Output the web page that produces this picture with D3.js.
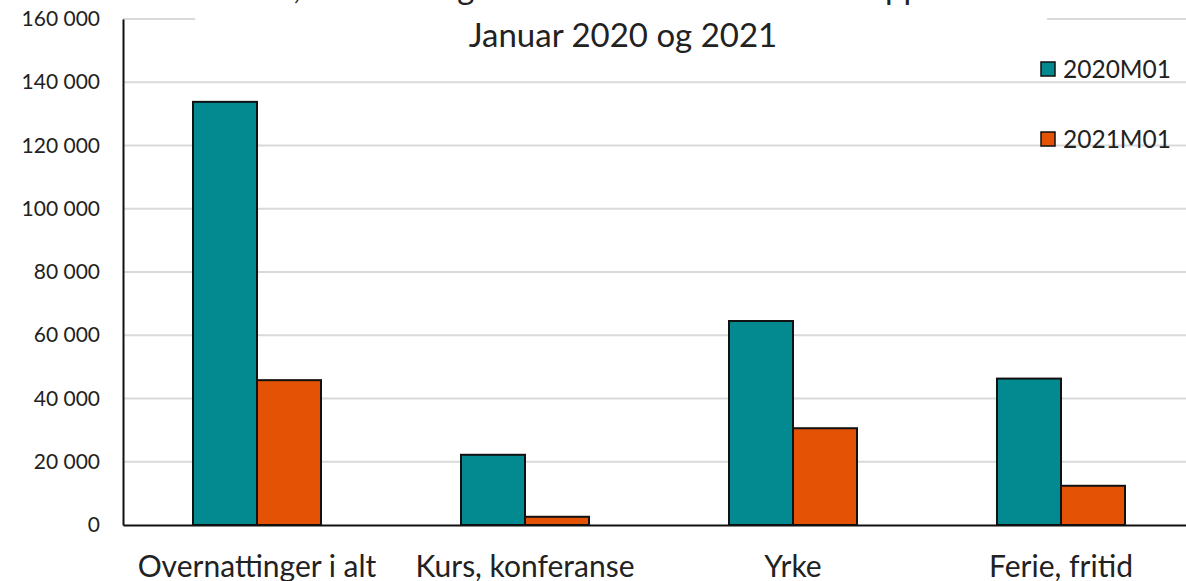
<!DOCTYPE html>
<html lang="no">
<head>
<meta charset="UTF-8">
<title>Overnattinger januar 2020 og 2021</title>
<style>
  body { margin: 0; background: #fff; font-family: Lato, "Open Sans", sans-serif; }
  #chart { display: block; }
  .tick text { fill: #222; font-family: Lato, "Open Sans", sans-serif; }
</style>
</head>
<body>
<svg id="chart" width="1186" height="581"></svg>
<script src="https://d3js.org/d3.v7.min.js"></script>
<script>
const categories = ["Overnattinger i alt", "Kurs, konferanse", "Yrke", "Ferie, fritid"];
const seriesNames = ["2020M01", "2021M01"];
const values2020 = [133800, 22200, 64500, 46300];
const values2021 = [45800, 2600, 30600, 12400];
const yTicks = [0, 20000, 40000, 60000, 80000, 100000, 120000, 140000, 160000];
const colors = ["#038a90", "#e35205"];

const svg = d3.select("#chart");
const margin = {top: 19, left: 123, bottom: 56};
const plotRight = 1195;
const height = 581;

const x = d3.scaleBand().domain(categories).range([margin.left, plotRight]);
const inner = d3.scaleBand().domain(seriesNames).range([0, 128]);
const y = d3.scaleLinear().domain([0, 160000]).range([height - margin.bottom, margin.top]);

const fmt = v => d3.format(",")(v).replace(/,/g, " ");

// gridlines
svg.append("g")
  .selectAll("line")
  .data(yTicks.slice(1))
  .enter().append("line")
  .attr("x1", margin.left).attr("x2", plotRight)
  .attr("y1", d => y(d)).attr("y2", d => y(d))
  .attr("stroke", "#d9d9d9").attr("stroke-width", 2);

// title (the first line sits mostly above the picture, as in the original)
const title = svg.append("g");
title.append("rect")
  .attr("x", 195).attr("y", 0).attr("width", 852).attr("height", 56)
  .attr("fill", "#fff");
title.append("text")
  .attr("x", 610).attr("y", -1)
  .attr("text-anchor", "middle")
  .attr("font-size", 33).attr("fill", "#222")
  .text("Hotell, overnattinger fordelt etter formål med oppholdet");
title.append("text")
  .attr("x", 623).attr("y", 47)
  .attr("text-anchor", "middle")
  .attr("font-size", 33).attr("fill", "#222")
  .text("Januar 2020 og 2021");

// bars
const rows = categories.map((c, i) => ({cat: c, vals: [values2020[i], values2021[i]]}));
const group = svg.append("g")
  .selectAll("g")
  .data(rows)
  .enter().append("g")
  .attr("transform", d => `translate(${x(d.cat) + x.bandwidth() / 2 - 64},0)`);

group.selectAll("rect")
  .data(d => d.vals.map((v, j) => ({name: seriesNames[j], value: v, j})))
  .enter().append("rect")
  .attr("x", d => inner(d.name))
  .attr("width", inner.bandwidth())
  .attr("y", d => y(d.value))
  .attr("height", d => y(0) - y(d.value))
  .attr("fill", d => colors[d.j])
  .attr("stroke", "#111").attr("stroke-width", 2);

// y axis
const yAxis = svg.append("g")
  .attr("transform", `translate(${margin.left},0)`)
  .call(d3.axisLeft(y).tickValues(yTicks).tickFormat(fmt).tickSize(0).tickPadding(23));
yAxis.select(".domain").attr("stroke", "#111").attr("stroke-width", 2);
yAxis.selectAll("text").attr("font-size", 21);

// x axis
const xAxis = svg.append("g")
  .attr("transform", `translate(0,${y(0)})`)
  .call(d3.axisBottom(x).tickSize(0).tickPadding(31));
xAxis.select(".domain").attr("stroke", "#111").attr("stroke-width", 2);
xAxis.selectAll("text").attr("font-size", 30);

// legend
const legend = svg.append("g")
  .selectAll("g")
  .data(seriesNames)
  .enter().append("g")
  .attr("transform", (d, i) => `translate(1041,${62 + i * 70})`);
legend.append("rect")
  .attr("width", 14).attr("height", 14)
  .attr("fill", (d, i) => colors[i])
  .attr("stroke", "#111").attr("stroke-width", 1.5);
legend.append("text")
  .attr("x", 22).attr("y", 7).attr("dy", "0.36em")
  .attr("font-size", 24.5).attr("fill", "#222")
  .text(d => d);
</script>
</body>
</html>
